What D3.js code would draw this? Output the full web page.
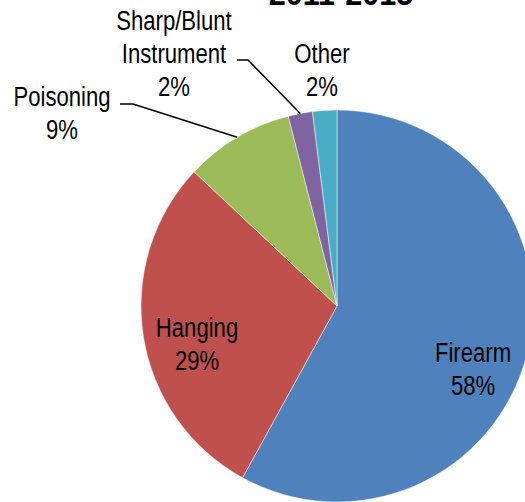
<!DOCTYPE html>
<html lang="en">
<head>
  <meta charset="utf-8">
  <script src="https://cdn.jsdelivr.net/npm/d3@7"></script>
  <style>
    body { margin: 0; background: #fff; }
    svg { display: block; }
    .lbl { font-family: "Liberation Sans", Arial, sans-serif; font-size: 28px; fill: #000; }
  </style>
</head>
<body>
  <script>
    // chart data
    const categories = ["Firearm", "Hanging", "Poisoning", "Sharp/Blunt Instrument", "Other"];
    const values = [58, 29, 9, 2, 2];
    const colors = ["#4F81BD", "#C0504D", "#9BBB59", "#8064A2", "#4BACC6"];
    const labelLines = [["Firearm"], ["Hanging"], ["Poisoning"], ["Sharp/Blunt", "Instrument"], ["Other"]];
    const title = "2011-2015";

    const w = 525, h = 502;
    const cx = 337, cy = 306, radius = 196;
    const narrow = 0.79; // no Arial Narrow here, so squeeze the regular face

    // label placement, relative to pie centre (dx, dy of first baseline)
    const labelPos = [[136, 56], [-140, 31], [-275, -200], [-163, -276], [-15, -243]];
    const lineGap = 33;

    const svg = d3.select("body")
      .append("svg")
      .attr("width", w)
      .attr("height", h);

    svg.append("text")
      .attr("transform", "translate(341,5) scale(0.9,1)")
      .attr("text-anchor", "middle")
      .style("font-family", "Liberation Sans, Arial, sans-serif")
      .style("font-weight", "bold")
      .style("font-size", "34px")
      .text(title);

    const pie = d3.pie().sort(null).value(d => d);
    const arcs = pie(values);
    const arc = d3.arc().innerRadius(0).outerRadius(radius);

    const g = svg.append("g")
      .attr("transform", "translate(" + cx + "," + cy + ")");

    g.selectAll("path")
      .data(arcs)
      .enter()
      .append("path")
      .attr("d", arc)
      .attr("fill", (d, i) => colors[i])
      .attr("stroke", "#fff")
      .attr("stroke-width", 0.5);

    // leader lines for the small outside slices
    const leaders = [
      { i: 2, from: [-217, -202], elbow: [-204, -202] },
      { i: 3, from: [-100, -246], elbow: [-89, -246] }
    ];
    leaders.forEach(l => {
      const a = (arcs[l.i].startAngle + arcs[l.i].endAngle) / 2;
      const end = [Math.sin(a) * radius, -Math.cos(a) * radius];
      g.append("path")
        .attr("d", d3.line()([l.from, l.elbow, end]))
        .attr("fill", "none")
        .attr("stroke", "#000")
        .attr("stroke-width", 1.5);
    });

    const fmt = v => v + "%";
    arcs.forEach((d, i) => {
      const lines = labelLines[i].concat([fmt(values[i])]);
      const t = g.append("g")
        .attr("transform", "translate(" + labelPos[i][0] + "," + labelPos[i][1] + ") scale(" + narrow + ",1)")
        .append("text")
        .attr("class", "lbl")
        .attr("text-anchor", "middle");
      lines.forEach((s, k) => {
        t.append("tspan")
          .attr("x", 0)
          .attr("dy", k === 0 ? 0 : lineGap)
          .text(s);
      });
    });
  </script>
</body>
</html>
